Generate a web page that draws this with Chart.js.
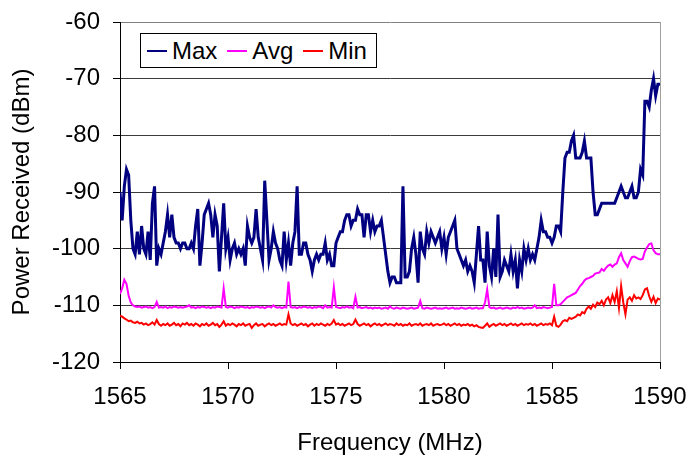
<!DOCTYPE html>
<html>
<head>
<meta charset="utf-8">
<script src="https://cdn.jsdelivr.net/npm/chart.js@4.4.0/dist/chart.umd.min.js"></script>
<style>
  html, body { margin: 0; padding: 0; background: #fff; }
  #wrap { position: relative; width: 689px; height: 460px; }
  #legend {
    position: absolute; left: 140px; top: 33px; width: 237px; height: 35px;
    box-sizing: border-box; border: 1px solid #000; background: #fff;
    display: flex; align-items: center; padding-left: 6px;
    font-family: "Liberation Sans", Arial, sans-serif; font-size: 24px; color: #000;
  }
  #legend .item { display: flex; align-items: center; margin-right: 10px; }
  #legend .swatch { width: 20px; height: 2px; margin-right: 5px; }
</style>
</head>
<body>
<div id="wrap">
  <canvas id="chart" width="689" height="460"></canvas>
  <div id="legend"></div>
</div>
<script>
// sweep: 1565.0 .. 1590.0 MHz, 0.1 MHz steps (251 samples)
var START_MHZ = 1565, STEP_MHZ = 0.1, N_PTS = 251;
var freqs = [];
for (var i = 0; i < N_PTS; i++) freqs.push(+(START_MHZ + i * STEP_MHZ).toFixed(1));

var xTicks = [1565, 1570, 1575, 1580, 1585, 1590];
var yTicks = [-120, -110, -100, -90, -80, -70, -60];

var seriesNames = ['Max', 'Avg', 'Min'];
var seriesColors = ['#000080', '#FF00FF', '#FF0000'];

var maxDbm = [
  -90, -95, -89, -86, -87, -95, -100, -101, -97, -101,
  -96, -100, -101, -97, -102, -92, -89, -103, -100, -101,
  -99, -97, -94, -98, -94, -98, -99, -99, -100, -99,
  -99, -100, -100, -99, -100, -96, -93, -103, -99, -94,
  -93, -92, -94, -98, -94, -96, -104, -98, -92, -100,
  -98, -102, -100, -99, -101, -100, -101, -100, -103, -96,
  -98, -99, -98, -93, -98, -100, -102, -88, -95, -102,
  -100, -97, -99, -100, -102, -103, -97, -102, -99, -103,
  -99, -97, -89, -101, -101, -99, -99, -101, -102, -104,
  -102, -101, -102, -101, -101, -99, -102, -101, -103, -103,
  -99, -98, -97, -97, -95, -94, -94, -96, -95, -95,
  -93, -94, -94, -98, -94, -94, -97, -95, -97, -96,
  -96, -95, -98, -101, -104, -106, -105, -105, -106, -106,
  -106, -89, -105, -105, -104, -100, -98, -101, -106, -97,
  -100, -101, -97, -99, -97, -98, -99, -98, -97, -100,
  -98, -101, -98, -97, -96, -95, -100, -101, -102, -103,
  -102, -104, -103, -104, -106, -101, -96, -102, -102, -106,
  -97, -103, -105, -100, -105, -94, -105, -104, -102, -103,
  -104, -101, -104, -102, -107, -102, -104, -100, -102, -100,
  -102, -101, -102, -100, -98, -95, -97, -97, -98, -98,
  -99, -98, -96, -96, -97, -90, -84, -83, -83, -81,
  -80, -84, -84, -84, -83, -81, -84, -84, -84, -90,
  -94, -94, -93, -92, -92, -92, -92, -92, -92, -92,
  -91, -90, -89, -90, -91, -91, -90, -89, -91, -91,
  -90, -86, -87, -74, -74, -75, -72, -70, -73, -71,
  -71
];

var avgDbm = [
  -108, -107, -105.5, -106.2, -108.3, -109.5, -110, -110.2, -110.3, -110.2,
  -110.4, -110.3, -110.2, -110.4, -110.3, -110.5, -110.3, -109.4, -110.4, -110.3,
  -110.4, -110.2, -110.5, -110.3, -110.4, -110.2, -110.3, -110.4, -110.3, -110.4,
  -110.3, -110.2, -110.0, -110.4, -110.3, -110.5, -110.3, -110.4, -110.2, -110.3,
  -110.4, -110.3, -110.5, -110.3, -110.4, -110.2, -110.3, -110.4, -107.0, -110.3,
  -110.4, -110.2, -110.3, -110.5, -110.3, -110.4, -110.2, -110.3, -110.4, -110.3,
  -110.5, -110.3, -110.4, -110.2, -110.3, -110.4, -110.3, -110.5, -110.3, -110.2,
  -110.4, -110.0, -110.3, -110.4, -110.3, -110.5, -110.3, -110.4, -105.8, -110.3,
  -110.4, -110.3, -110.5, -110.3, -110.4, -110.2, -110.3, -110.4, -110.3, -110.5,
  -110.3, -110.4, -110.2, -110.3, -110.5, -110.0, -110.4, -110.3, -110.4, -106.8,
  -110.3, -110.4, -110.5, -110.3, -110.4, -110.2, -110.4, -110.3, -110.5, -108.5,
  -110.4, -110.3, -110.5, -110.4, -110.3, -110.5, -110.4, -110.6, -110.4, -110.5,
  -110.4, -110.6, -110.5, -110.4, -110.6, -110.2, -110.5, -110.6, -110.4, -110.5,
  -110.6, -110.4, -110.5, -110.6, -110.5, -110.4, -110.6, -110.5, -110.4, -109.2,
  -110.5, -110.6, -110.4, -110.5, -110.6, -110.5, -110.4, -110.6, -110.5, -110.6,
  -110.5, -110.4, -110.6, -110.5, -110.4, -110.6, -110.5, -110.6, -110.4, -110.5,
  -110.6, -110.5, -110.4, -110.6, -110.5, -110.4, -110.6, -110.5, -110.5, -109.5,
  -107.2, -110.3, -110.5, -110.4, -110.6, -110.5, -110.4, -110.6, -110.5, -110.4,
  -110.5, -110.6, -110.4, -110.5, -110.3, -110.5, -110.4, -110.6, -110.5, -110.4,
  -110.5, -110.4, -110.0, -110.5, -110.4, -110.5, -110.3, -110.4, -110.5, -110.4,
  -110.3, -106.2, -110.0, -110.0, -109.8, -109.4, -109.0, -108.6, -108.4, -108.2,
  -108.0, -107.8, -107.2, -106.6, -106.2, -105.6, -105.3, -105.2, -105.0, -104.8,
  -104.4, -104.3, -104.2, -103.6, -103.9, -103.4, -103.0, -102.8, -103.2, -102.8,
  -102.6, -101.5, -100.8, -102.0, -102.6, -103.2, -102.2, -101.5, -101.4, -101.6,
  -101.8, -101.9, -101.8, -100.5, -99.8, -99.2, -99.1, -100.3, -100.8, -101.0,
  -101.0
];

var minDbm = [
  -111.8, -112.0, -112.3, -112.5, -112.8, -112.7, -113.0, -113.1, -112.9, -113.2,
  -113.1, -113.4, -113.2, -113.5, -113.3, -113.0, -113.4, -112.6, -113.3, -113.6,
  -113.3, -113.5, -113.2, -113.6, -113.4, -113.1, -113.5, -113.3, -113.7, -113.2,
  -113.4, -113.1, -113.5, -113.3, -113.6, -113.2, -113.4, -113.7, -113.3, -113.5,
  -113.2, -113.6, -113.4, -113.1, -113.5, -113.3, -113.8, -113.4, -112.8, -113.6,
  -113.3, -113.5, -113.2, -113.4, -113.7, -113.3, -113.5, -113.2, -113.6, -113.4,
  -113.3, -114.0, -113.5, -113.2, -113.6, -113.4, -113.3, -113.7, -113.4, -113.2,
  -113.5, -113.3, -113.6, -113.4, -113.2, -113.5, -113.3, -113.4, -111.6, -113.2,
  -113.5, -113.3, -113.6, -113.4, -113.2, -113.5, -113.3, -113.7, -113.4, -113.2,
  -113.6, -113.3, -113.5, -113.2, -113.4, -113.6, -113.3, -113.5, -113.2, -112.6,
  -113.4, -113.2, -113.5, -113.3, -113.6, -113.4, -113.2, -113.5, -113.3, -112.5,
  -113.3, -113.6, -113.4, -113.2, -113.5, -113.3, -113.7, -113.4, -113.2, -113.5,
  -113.3, -113.6, -113.4, -113.2, -113.5, -113.3, -113.4, -113.6, -113.2, -113.5,
  -113.3, -113.6, -113.4, -113.5, -113.2, -113.6, -113.4, -113.3, -113.5, -113.2,
  -113.6, -113.4, -113.3, -113.5, -113.2, -113.6, -113.4, -113.3, -113.5, -113.4,
  -113.2, -113.5, -113.3, -113.6, -113.4, -113.2, -113.5, -113.3, -113.6, -113.4,
  -113.5, -113.3, -113.6, -113.4, -113.7, -113.5, -113.8, -113.9, -114.0, -113.6,
  -113.2, -113.8, -113.5, -113.3, -113.6, -113.4, -113.2, -113.5, -113.3, -113.6,
  -113.4, -113.2, -113.5, -113.3, -113.6, -113.4, -113.2, -113.5, -113.3, -113.4,
  -113.2, -113.5, -113.3, -113.6, -113.4, -113.2, -113.5, -113.3, -113.4, -113.2,
  -113.5, -112.0, -113.6, -113.8, -113.4, -112.8, -112.6, -112.8, -112.2, -112.4,
  -112.2, -112.0, -111.6, -111.8, -111.2, -111.4, -110.6, -110.2, -110.6, -109.9,
  -110.3, -109.5, -109.8, -109.2, -110.0, -109.0, -108.6, -109.6, -108.2, -109.4,
  -107.5, -110.5, -106.6, -109.5, -111.6, -109.0, -108.6, -109.2, -108.2, -108.8,
  -108.6, -108.9, -108.2, -107.2, -107.0, -108.4, -109.4, -108.5, -109.6, -108.8,
  -109.0
];

function toPoints(vals) {
  return vals.map(function (v, i) { return { x: freqs[i], y: v }; });
}

var FONT = { family: '"Liberation Sans", Arial, sans-serif', size: 24 };

var htmlLegend = {
  id: 'htmlLegend',
  afterUpdate: function (chart) {
    var box = document.getElementById('legend');
    box.innerHTML = '';
    chart.data.datasets.forEach(function (ds) {
      var item = document.createElement('div');
      item.className = 'item';
      var sw = document.createElement('span');
      sw.className = 'swatch';
      sw.style.background = ds.borderColor;
      var txt = document.createElement('span');
      txt.textContent = ds.label;
      item.appendChild(sw);
      item.appendChild(txt);
      box.appendChild(item);
    });
  }
};

var ctx = document.getElementById('chart');
new Chart(ctx, {
  type: 'line',
  data: {
    datasets: [
      { label: seriesNames[0], data: toPoints(maxDbm), borderColor: seriesColors[0], borderWidth: 3 },
      { label: seriesNames[1], data: toPoints(avgDbm), borderColor: seriesColors[1], borderWidth: 2 },
      { label: seriesNames[2], data: toPoints(minDbm), borderColor: seriesColors[2], borderWidth: 2 }
    ]
  },
  options: {
    responsive: false,
    animation: false,
    events: [],
    elements: { point: { radius: 0 }, line: { tension: 0, fill: false } },
    layout: { padding: { top: 22, right: 29, left: 0, bottom: 0 } },
    plugins: { legend: { display: false }, tooltip: { enabled: false } },
    scales: {
      x: {
        type: 'linear',
        min: xTicks[0], max: xTicks[xTicks.length - 1],
        afterBuildTicks: function (s) { s.ticks = xTicks.map(function (v) { return { value: v }; }); },
        afterFit: function (s) { s.height = 98; s.paddingLeft = 0; s.paddingRight = 0; },
        ticks: { color: '#000', font: FONT, padding: 14, maxRotation: 0, callback: function (v) { return String(v); } },
        grid: {
          color: function (c) { return c.tick && c.tick.value === 1590 ? '#a0a0a0' : 'rgba(0,0,0,0)'; },
          tickColor: '#000', tickLength: 7, lineWidth: 1
        },
        border: { color: '#000', width: 1 },
        title: { display: true, text: 'Frequency (MHz)', color: '#000', font: FONT, padding: { top: 0, bottom: 2 } }
      },
      y: {
        min: yTicks[0], max: yTicks[yTicks.length - 1],
        afterBuildTicks: function (s) { s.ticks = yTicks.map(function (v) { return { value: v }; }); },
        afterFit: function (s) { s.width = 120; s.paddingTop = 0; s.paddingBottom = 0; },
        ticks: { color: '#000', font: FONT, padding: 13 },
        grid: {
          color: function (c) { return c.tick && c.tick.value === -60 ? '#808080' : '#3a3a3a'; },
          tickColor: '#000', tickLength: 7, lineWidth: 1
        },
        border: { color: '#000', width: 1 },
        title: { display: true, text: 'Power Received (dBm)', color: '#000', font: FONT, padding: { top: 8, bottom: 0 } }
      }
    }
  },
  plugins: [htmlLegend]
});
</script>
</body>
</html>
